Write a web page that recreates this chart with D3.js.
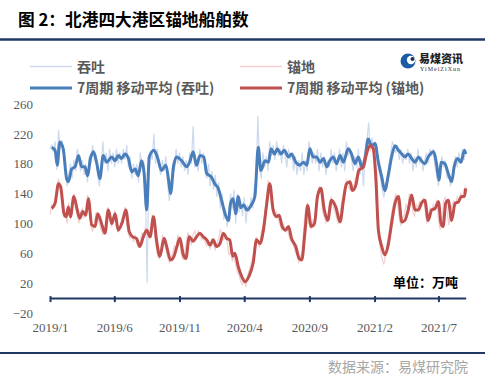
<!DOCTYPE html>
<html><head><meta charset="utf-8">
<script src="https://cdn.jsdelivr.net/npm/d3@7"></script>
<style>body{margin:0;background:#fff}svg{display:block}</style>
</head><body><svg id="c" width="485" height="380"></svg>
<script>
// ---- data ----
const startDate = new Date(2019, 0, 1);
const rawStep = 4; // days between raw samples
const rawBlue = [200,205,195,210,172,225,200,212,190,170,150,165,180,160,185,170,200,185,170,185,165,180,155,190,180,205,185,190,165,150,175,210,180,195,170,200,180,195,175,200,180,195,180,200,185,205,175,190,160,180,165,180,155,195,175,185,150,20,160,195,185,220,180,200,175,165,185,170,190,155,130,150,180,170,200,180,195,175,190,170,185,165,195,180,230,175,185,170,200,180,195,170,160,180,150,170,145,165,135,155,120,140,105,120,95,115,140,120,145,100,140,115,130,110,135,100,125,115,135,120,150,160,244,175,160,195,175,190,170,210,190,205,185,210,190,200,180,205,190,175,200,185,195,170,190,165,185,170,195,165,185,170,210,195,180,195,180,200,170,195,175,190,165,185,175,200,180,195,170,185,200,175,195,170,210,190,200,185,170,190,175,200,165,185,150,195,210,235,200,215,195,210,185,170,160,145,135,150,160,180,195,210,200,195,205,185,200,180,195,185,200,180,195,170,190,175,200,180,190,170,185,195,180,200,190,200,175,165,150,175,190,175,185,160,170,150,160,180,190,175,195,180,200,185,195];
const rawRed = [112,125,122,135,150,160,145,130,108,115,100,128,105,125,140,125,110,100,115,120,108,112,138,125,95,90,100,115,108,100,92,85,90,110,122,108,95,105,118,100,88,95,105,112,122,100,85,80,85,75,85,72,68,75,88,80,95,85,80,95,112,105,72,60,52,65,85,75,65,55,48,55,60,70,64,85,78,60,52,58,75,88,78,72,85,90,80,90,85,78,82,75,70,76,65,80,72,65,72,80,92,85,78,82,75,58,62,50,55,45,35,30,22,18,25,15,30,38,45,55,70,82,75,68,88,95,110,135,158,148,125,112,108,115,105,98,92,100,88,95,85,78,75,70,62,58,48,55,62,95,118,128,100,92,105,95,125,140,150,142,115,110,100,108,128,135,125,118,110,100,105,125,138,150,158,150,145,155,148,158,165,175,172,180,170,195,200,208,198,205,185,150,110,80,65,52,45,60,75,88,105,120,130,140,128,105,98,108,112,125,120,140,132,115,110,125,120,130,122,135,125,100,108,120,115,125,118,132,105,92,100,130,135,120,98,110,125,130,122,135,130,140,135,145,150];
const maBlueDays = [4,12,17,23,31,39,43,51,59,67,74,82,88,95,102,110,117,125,133,145,153,160,168,176,184,192,200,207,215,221,227,233,244,252,262,272,278,283,290,297,309,321,329,336,344,352,361,368,379,387,395,403,411,419,424,430,436,442,448,455,462,473,481,489,495,505,513,519,527,534,542,550,560,567,577,587,595,603,610,618,626,634,642,650,657,665,673,681,689,700,708,716,724,732,740,747,755,763,771,779,786,794,802,810,818,826,833,841,849,857,865,872,880,888,900,908,913,919,927,935,943,949,957,965,973,976];
const maBlueVals = [202,198,178,209,200,160,156,173,176,191,176,176,164,187,196,180,160,191,182,189,184,191,187,193,187,169,173,164,184,167,118,189,198,189,171,178,160,140,176,189,184,176,184,196,178,191,189,167,162,153,147,131,113,104,127,133,113,136,121,125,118,125,136,202,171,184,182,200,193,200,193,198,189,193,182,178,182,178,200,189,189,182,187,176,184,189,180,191,182,200,193,180,189,176,189,213,204,207,182,162,144,164,189,204,198,193,189,193,187,182,189,184,180,189,196,178,158,182,180,167,156,176,187,182,198,193];
const maRedDays = [4,12,20,25,33,38,43,48,56,64,70,77,84,90,98,106,112,121,129,137,145,153,160,170,178,186,194,203,211,219,227,235,243,250,258,268,274,283,291,297,305,313,319,327,336,344,352,360,368,376,383,391,399,407,415,422,429,434,442,450,458,467,477,485,493,501,509,516,524,532,538,545,553,560,567,577,585,591,599,605,613,621,628,636,644,652,661,671,681,689,696,704,710,718,725,736,743,751,759,765,771,779,786,794,802,810,818,826,833,841,849,857,865,872,880,888,896,904,912,918,923,929,935,943,951,959,966,973,976];
const maRedVals = [120,127,153,149,113,109,122,109,136,118,107,116,111,133,98,96,113,100,87,118,100,113,91,102,118,89,82,80,69,82,91,82,109,78,56,80,69,51,56,67,80,58,53,82,76,82,87,82,78,71,78,69,73,87,80,78,56,60,42,29,22,29,47,78,73,91,127,153,118,109,111,96,91,96,80,69,53,51,91,124,96,100,136,147,118,104,131,122,102,131,153,156,144,151,171,176,193,204,200,162,91,69,58,71,100,127,136,102,104,118,138,118,118,127,131,104,118,120,129,100,96,127,131,104,127,129,136,136,147];
const yTicks = [-20,20,60,100,140,180,220,260];
const xTickDates = ["2019-01-01","2019-06-01","2019-11-01","2020-04-01","2020-09-01","2021-02-01","2021-07-01"];
const legendLabels = ["吞吐","锚地","7周期 移动平均 (吞吐)","7周期 移动平均 (锚地)"];
const title = "图 2：北港四大港区锚地船舶数";
const unitLabel = "单位：万吨";
const sourceLabel = "数据来源：易煤研究院";

// ---- build ----
const C = {blue:"#4a7ebb", red:"#c0504d", lblue:"#cddaee", lred:"#f1cfcf", navy:"#1f3864"};
const svg = d3.select("#c");
const dayToDate = d => d3.timeDay.offset(startDate, d);
const x = d3.scaleTime().domain([startDate, dayToDate(976)]).range([50, 465.7]);
const y = d3.scaleLinear().domain([-20, 260]).range([313, 104]);

const rawB = rawBlue.map((v,i)=>({d:dayToDate(i*rawStep), v}));
const rawR = rawRed.map((v,i)=>({d:dayToDate(i*rawStep), v}));
const maB = maBlueDays.map((d,i)=>({d:dayToDate(d), v:maBlueVals[i]}));
const maR = maRedDays.map((d,i)=>({d:dayToDate(d), v:maRedVals[i]}));

// title & separators
svg.append("text").attr("x",18).attr("y",26).attr("font-family","'Noto Sans CJK SC'").attr("font-weight","bold").attr("font-size",16.7).attr("fill","#000").text(title);
svg.append("line").attr("x1",0).attr("x2",485).attr("y1",39.5).attr("y2",39.5).attr("stroke",C.navy).attr("stroke-width",2.5);
svg.append("line").attr("x1",0).attr("x2",485).attr("y1",353).attr("y2",353).attr("stroke",C.navy).attr("stroke-width",2);
svg.append("text").attr("x",468).attr("y",372).attr("text-anchor","end").attr("font-family","'Noto Sans CJK SC'").attr("font-size",14).attr("fill","#a6a6a6").text(sourceLabel);

// logo
const lg = svg.append("g");
lg.append("circle").attr("cx",408).attr("cy",61).attr("r",7.5).attr("fill","#1a5aa6");
lg.append("circle").attr("cx",411).attr("cy",60).attr("r",4.2).attr("fill","#fff");
lg.append("circle").attr("cx",412.5).attr("cy",59).attr("r",2).attr("fill","#1b2f55");
lg.append("text").attr("x",419).attr("y",63).attr("font-family","'Noto Sans CJK SC'").attr("font-weight","900").attr("font-size",11).attr("fill","#222").text("易煤资讯");
lg.append("text").attr("x",420).attr("y",70.5).attr("font-family","'Liberation Serif'").attr("font-size",6).attr("fill","#333").attr("textLength",40).text("YiMeiZiXun");

// legend
const leg = [
  {x:30, y:66.5, c:C.lblue, w:1.5, t:legendLabels[0]},
  {x:240, y:66.5, c:C.lred, w:1.5, t:legendLabels[1]},
  {x:30, y:88, c:C.blue, w:3, t:legendLabels[2]},
  {x:240, y:88, c:C.red, w:3, t:legendLabels[3]}
];
leg.forEach(l=>{
  svg.append("line").attr("x1",l.x).attr("x2",l.x+42).attr("y1",l.y).attr("y2",l.y).attr("stroke",l.c).attr("stroke-width",l.w);
  svg.append("text").attr("x",l.x+47).attr("y",l.y+5).attr("font-family","'Noto Sans CJK SC'").attr("font-weight","bold").attr("font-size",14).attr("fill","#595959").text(l.t);
});

// y axis labels
const ya = svg.append("g").attr("transform","translate(35,0)").call(d3.axisLeft(y).tickValues(yTicks).tickSize(0).tickPadding(2));
ya.select(".domain").remove();
ya.selectAll("text").attr("font-family","'Liberation Serif'").attr("font-size",13).attr("fill","#595959");

// lines
const lineRaw = d3.line().x(d=>x(d.d)).y(d=>y(d.v));
const lineMA = d3.line().x(d=>x(d.d)).y(d=>y(d.v)).curve(d3.curveMonotoneX);
svg.append("path").datum(rawB).attr("d",lineRaw).attr("fill","none").attr("stroke",C.lblue).attr("stroke-width",1.2);
svg.append("path").datum(rawR).attr("d",lineRaw).attr("fill","none").attr("stroke",C.lred).attr("stroke-width",1.2);
svg.append("path").datum(maB).attr("d",lineMA).attr("fill","none").attr("stroke",C.blue).attr("stroke-width",3).attr("stroke-linejoin","round");
svg.append("path").datum(maR).attr("d",lineMA).attr("fill","none").attr("stroke",C.red).attr("stroke-width",3).attr("stroke-linejoin","round");

// x axis at y=0
const xa = svg.append("g").attr("transform",`translate(0,${y(0)})`)
  .call(d3.axisBottom(x).tickValues(xTickDates.map(s=>d3.timeParse("%Y-%m-%d")(s))).tickFormat(d3.timeFormat("%Y/%-m")).tickSizeInner(4).tickSizeOuter(0));
xa.select(".domain").attr("stroke",C.navy).attr("stroke-width",2);
xa.selectAll(".tick line").attr("stroke",C.navy).attr("stroke-width",2).attr("y1",-2);
xa.selectAll("text").attr("y",25).attr("font-family","'Liberation Serif'").attr("font-size",13).attr("fill","#595959");

svg.append("text").attr("x",458).attr("y",287).attr("text-anchor","end").attr("font-family","'Noto Sans CJK SC'").attr("font-weight","bold").attr("font-size",13).attr("fill","#000").text(unitLabel);
</script></body></html>
